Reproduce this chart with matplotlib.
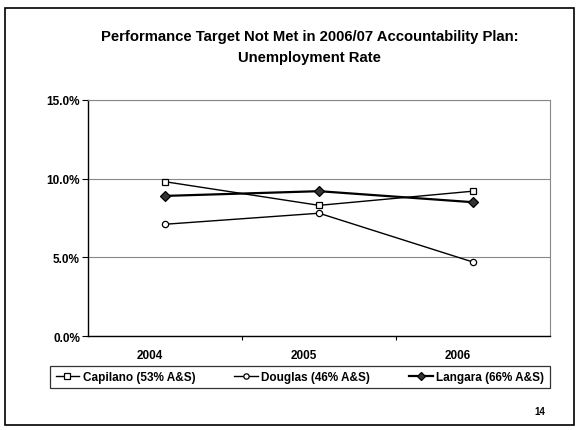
import matplotlib
matplotlib.use("Agg")
import matplotlib.pyplot as plt
from matplotlib.patches import Rectangle
from matplotlib.ticker import FuncFormatter

# ---- DATA ----
years = ["2004", "2005", "2006"]
capilano = [9.8, 8.3, 9.2]
douglas = [7.1, 7.8, 4.7]
langara = [8.9, 9.2, 8.5]
labels = ["Capilano (53% A&S)", "Douglas (46% A&S)", "Langara (66% A&S)"]
# ---------------

plt.rcParams["font.family"] = ["Liberation Sans", "DejaVu Sans"]

fig = plt.figure(figsize=(5.77, 4.31), dpi=100)
ax = fig.add_axes([0.153, 0.218, 0.80, 0.548])

x = list(range(len(years)))
ax.plot(x, capilano, color="black", lw=1.0, marker="s", ms=5,
        mfc="white", mec="black", mew=0.9, label=labels[0])
ax.plot(x, douglas, color="black", lw=1.0, marker="o", ms=4.5,
        mfc="white", mec="black", mew=0.9, label=labels[1])
ax.plot(x, langara, color="black", lw=1.6, marker="D", ms=5,
        mfc="#333333", mec="black", mew=0.9, label=labels[2])

ax.set_xlim(-0.5, 2.5)
ax.set_ylim(0, 15)
ax.set_yticks([0, 5, 10, 15])
ax.yaxis.set_major_formatter(FuncFormatter(lambda v, p: f"{v:.1f}%"))
ax.set_xticks([0.5, 1.5])
ax.set_xticklabels([])
ax.tick_params(axis="x", length=3, direction="out")
ax.tick_params(axis="y", length=4, direction="out", labelsize=8.5, pad=2)
for t in ax.get_yticklabels():
    t.set_fontweight("bold")
for i, yr in enumerate(years):
    ax.text(i - 0.1, -1.2, yr, ha="center", va="center",
            fontsize=8.5, fontweight="bold")

ax.grid(axis="y", color="#888888", lw=0.8)
ax.set_axisbelow(True)
for side in ["top", "right"]:
    ax.spines[side].set_color("#888888")
    ax.spines[side].set_linewidth(0.8)
ax.spines["left"].set_linewidth(1.0)
ax.spines["bottom"].set_linewidth(1.0)

fig.text(0.537, 0.915, "Performance Target Not Met in 2006/07 Accountability Plan:",
         ha="center", va="center", fontsize=10.7, fontweight="bold")
fig.text(0.537, 0.866, "Unemployment Rate",
         ha="center", va="center", fontsize=10.7, fontweight="bold")

leg = fig.legend(loc="center", bbox_to_anchor=(0.52, 0.123), ncol=3,
                 fontsize=8.5, frameon=True, fancybox=False, edgecolor="black",
                 handlelength=2.0, columnspacing=3.3, borderpad=0.45,
                 handletextpad=0.3, markerscale=0.85)
leg.get_frame().set_linewidth(0.9)
for t in leg.get_texts():
    t.set_fontweight("bold")

fig.text(0.935, 0.045, "14", ha="center", va="center", fontsize=7,
         fontweight="bold")

# slide border
fig.patches.append(Rectangle((0.009, 0.012), 0.985, 0.968, transform=fig.transFigure,
                             fill=False, edgecolor="black", lw=1.2))

fig.savefig("out.png", dpi=100)
